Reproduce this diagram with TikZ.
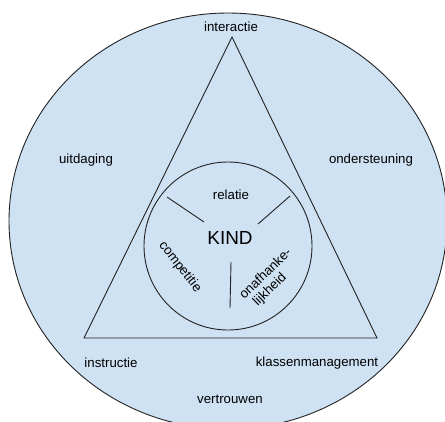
\documentclass[tikz,border=0pt]{standalone}
\usepackage{fontspec}
\usetikzlibrary{shapes.geometric}
\setmainfont{Liberation Sans}
\definecolor{lightblue}{HTML}{CFE2F3}
\definecolor{linec}{HTML}{222222}
\begin{document}
\begin{tikzpicture}[x=1bp,y=-1bp,
  lbl/.style={font=\fontsize{13.3}{15}\selectfont, text=black, inner sep=0pt},
  edge/.style={draw=linec, line width=0.9bp}]
\useasboundingbox (0,0) rectangle (445,421);
\begin{scope}
\clip (0,0) rectangle (445,421);
\node[ellipse, minimum width=438bp, minimum height=416bp, fill=lightblue, edge, inner sep=0pt] (outer) at (228,221) {};
\end{scope}
\coordinate (apex) at (232,37);
\coordinate (bl) at (84,338);
\coordinate (br) at (377,338);
\draw[edge, line join=miter] (apex) -- (bl) -- (br) -- cycle;
\node[circle, minimum size=168bp, edge, inner sep=0pt] (inner) at (228,246) {};
\coordinate (l1a) at (167,197); \coordinate (l1b) at (204,222);
\coordinate (l2a) at (290,196); \coordinate (l2b) at (258,224);
\coordinate (l3a) at (231,262); \coordinate (l3b) at (230,308);
\draw[edge] (l1a) -- (l1b);
\draw[edge] (l2a) -- (l2b);
\draw[edge] (l3a) -- (l3b);
\node[lbl] (interactie) at (231,27) {interactie};
\node[lbl] (uitdaging) at (86,160) {uitdaging};
\node[lbl] (ondersteuning) at (371,160) {ondersteuning};
\node[lbl] (instructie) at (111,363) {instructie};
\node[lbl] (klassen) at (317,363) {klassenmanagement};
\node[lbl] (vertrouwen) at (230,399) {vertrouwen};
\node[lbl] (relatie) at (231,195) {relatie};
\node[lbl, font=\fontsize{19}{21}\selectfont] (kind) at (230,238) {KIND};
\node[lbl, rotate=-52] (comp) at (180,267) {competitie};
\node[lbl, rotate=44] (onaf1) at (265,273) {onafhanke-};
\node[lbl, rotate=44] (onaf2) at (270,290) {lijkheid};
\end{tikzpicture}
\end{document}
